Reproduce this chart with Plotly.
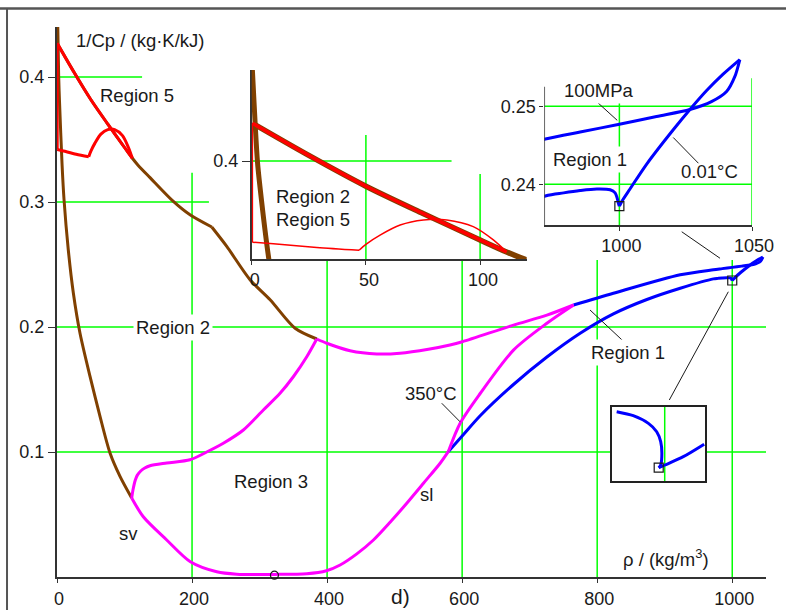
import plotly.graph_objects as go

# ---------------- data: 1/cp [kg K/kJ] versus density [kg/m3] ----------------
# saturated vapour line up to 350 degC (Region 2 boundary)
sv_rho = [0.3, 2.5, 3.6, 7.5, 10.4, 16.7, 24.2, 34.0, 48.9, 63.7, 78.5, 93.3, 110.6]
sv_icp = [0.465, 0.400, 0.382, 0.330, 0.302, 0.2618, 0.2272, 0.1952, 0.1605, 0.1285, 0.0992, 0.0805, 0.0632]

# 800 degC isotherm from p -> 0 up to 100 MPa (first six points: up to 50 MPa, shared with Region 5)
t800_rho = [0.3, 25, 50, 75, 100, 111.6, 120, 137.8, 172.3, 197, 229.2]
t800_icp = [0.427, 0.404, 0.382, 0.3625, 0.3436, 0.3350, 0.3295, 0.3195, 0.3005, 0.2898, 0.2800]
N50 = 6

# 100 MPa isobar in Region 2 (800 degC down to the B23 line)
p100_r2_rho = [229.2, 251.4, 285.9, 315.6, 352.6, 384.7]
p100_r2_icp = [0.2800, 0.2645, 0.2378, 0.2218, 0.1990, 0.1904]

# Region 5: ideal-gas limit, 2000 degC isotherm, 50 MPa isobar
p0_rho, p0_icp = [0.3, 0.3], [0.427, 0.342]
t2000_rho = [0.3, 9.5, 28.5, 47.0]
t2000_icp = [0.342, 0.3408, 0.3382, 0.3362]
p50_rho = [47.0, 50.0, 56.2, 65.0, 75.2, 85.4, 97.0, 105.8, 111.6]
p50_icp = [0.3362, 0.3405, 0.3471, 0.3543, 0.3579, 0.3579, 0.3531, 0.3436, 0.3350]

# Region 3: saturation dome from sv(350 degC) through the critical point to sl(350 degC)
dome_rho = [110.6, 127.8, 162.5, 197.5, 236.6, 266, 322, 370, 399, 419.3, 444, 468.6, 493.3, 518, 542.7, 567.4, 579.7]
dome_icp = [0.0632, 0.0482, 0.0296, 0.0122, 0.0042, 0.0023, 0.0021, 0.0026, 0.0050, 0.0096, 0.0185, 0.0296, 0.0438,
            0.0590, 0.0750, 0.0910, 0.1005]
# B23 boundary line
b23_rho = [110.6, 112.5, 116, 119, 124, 130, 137.7, 162.5, 197, 221.7, 246.3, 276, 305.6, 330.3, 350, 369.9, 384.7]
b23_icp = [0.0632, 0.0696, 0.0776, 0.0815, 0.0848, 0.0872, 0.0890, 0.0912, 0.0938, 0.1000, 0.1070, 0.1176, 0.1336,
           0.1470, 0.1602, 0.1762, 0.1904]
# 100 MPa isobar in Region 3
p100_r3_rho = [384.7, 399.5, 434, 473.6, 508, 550, 582, 600.3, 676, 725.5, 765]
p100_r3_icp = [0.1904, 0.1870, 0.1810, 0.1784, 0.1790, 0.1822, 0.1856, 0.1882, 0.2015, 0.2095, 0.2176]
# 350 degC isotherm (Region 1 / Region 3 border)
t350_rho = [579.7, 597, 626.7, 676, 725.5, 765]
t350_icp = [0.1005, 0.1230, 0.1468, 0.1815, 0.2030, 0.2176]

# Region 1: saturated liquid down to the triple point
sl_rho = [579.7, 602, 626.7, 676, 725.5, 774.8, 824, 873.6, 923, 972.1, 979, 985.2, 991.5, 996.5,
          998.4, 999.2, 999.6, 1000]
sl_icp = [0.1005, 0.1140, 0.1290, 0.1540, 0.1760, 0.1950, 0.2105, 0.2220, 0.2310, 0.2385, 0.2389, 0.2392, 0.2394,
          0.2393, 0.2389, 0.2382, 0.2376, 0.2372]
# 0.01 degC isotherm up to 100 MPa
t001_rho = [1000, 1000.9, 1004, 1010.3, 1020.3, 1026.6, 1032.8, 1039, 1045.4]
t001_icp = [0.2372, 0.2378, 0.2394, 0.2426, 0.2470, 0.2496, 0.2520, 0.2541, 0.2560]
# 100 MPa isobar in Region 1
p100_r1_rho = [1045.4, 1043.5, 1040.4, 1034.7, 1026.6, 1014, 1000, 985.2, 972.1, 923, 824, 765]
p100_r1_icp = [0.2560, 0.2538, 0.2519, 0.2506, 0.2496, 0.2487, 0.2477, 0.2467, 0.2458, 0.2418, 0.2270, 0.2176]

# magnified saturated-liquid line and 0.01 degC isotherm around the triple point
box_sl_rho = [998.32, 998.90, 999.43, 999.72, 999.86, 999.90, 999.86, 999.79]
box_sl_icp = [0.23966, 0.23947, 0.23910, 0.23870, 0.23822, 0.23766, 0.23710, 0.23697]
box_t001_rho = [999.79, 1000.01, 1000.65, 1001.38]
box_t001_icp = [0.23697, 0.23710, 0.23750, 0.23810]

tp_rho, tp_icp = [1000.0], [0.2372]          # triple point (liquid)
tp_box_rho, tp_box_icp = [999.79], [0.23697]
crit_rho, crit_icp = [322.0], [0.0015]       # critical point

x_ticks = [0, 200, 400, 600, 800, 1000]
y_ticks = [0.1, 0.2, 0.3, 0.4]
ins1_xticks, ins1_yticks = [0, 50, 100], [0.4]
ins3_xticks, ins3_yticks = [1000, 1050], [0.24, 0.25]

BROWN, RED, BLUE, MAG, GREEN = "#804000", "#FF0000", "#0000FF", "#FF00FF", "#00FF00"
FONT = "Arial, Liberation Sans, sans-serif"
INK = "#1a1a1a"

fig = go.Figure()


def line(x, y, color, width, ax="", smooth=True):
    fig.add_trace(go.Scatter(x=x, y=y, mode="lines",
                             line=dict(color=color, width=width, shape="spline" if smooth else "linear",
                                       smoothing=0.8),
                             xaxis="x" + ax, yaxis="y" + ax, hoverinfo="skip", showlegend=False))


def mark(x, y, symbol, size, ax=""):
    fig.add_trace(go.Scatter(x=x, y=y, mode="markers", cliponaxis=False,
                             marker=dict(symbol=symbol, size=size, color=INK, line=dict(color=INK, width=1.2)),
                             xaxis="x" + ax, yaxis="y" + ax, hoverinfo="skip", showlegend=False))


def region1(ax, w):
    line(sl_rho, sl_icp, BLUE, w, ax)
    line(t001_rho, t001_icp, BLUE, w, ax)
    line(p100_r1_rho, p100_r1_icp, BLUE, w, ax)


def region2(ax, w):
    line(sv_rho, sv_icp, BROWN, w, ax)
    line(t800_rho, t800_icp, BROWN, w, ax)
    line(p100_r2_rho, p100_r2_icp, BROWN, w, ax)


# ---- main diagram ----
region2("", 3)
line(p0_rho, p0_icp, RED, 3, smooth=False)
line(t2000_rho, t2000_icp, RED, 3)
line(p50_rho, p50_icp, RED, 3)
line(t800_rho[:N50], t800_icp[:N50], RED, 3)
region1("", 3)
line(dome_rho, dome_icp, MAG, 3)
line(b23_rho, b23_icp, MAG, 3)
line(p100_r3_rho, p100_r3_icp, MAG, 3)
line(t350_rho, t350_icp, MAG, 3)
mark(tp_rho, tp_icp, "square-open", 9)
mark(crit_rho, crit_icp, "circle-open", 8)

# ---- inset: Regions 2 and 5 at low density ----
line(sv_rho, sv_icp, BROWN, 5, "2")
line(t800_rho, t800_icp, BROWN, 5.5, "2")
line(p0_rho, p0_icp, RED, 1.5, "2", smooth=False)
line(t2000_rho, t2000_icp, RED, 1.5, "2")
line(p50_rho, p50_icp, RED, 1.5, "2")
line(t800_rho[:N50], t800_icp[:N50], RED, 3.5, "2")

# ---- inset: Region 1 near the triple point ----
region1("3", 3)
mark(tp_rho, tp_icp, "square-open", 9, "3")

# ---- small magnifier box ----
line(box_sl_rho, box_sl_icp, BLUE, 3, "4")
line(box_t001_rho, box_t001_icp, BLUE, 3, "4")
mark(tp_box_rho, tp_box_icp, "square-open", 9, "4")

# ---------------- decoration: partial grid lines and leader lines ----------------
shapes = []


def seg(x0, y0, x1, y1, ax="", color=GREEN, width=1.5, layer="below"):
    shapes.append(dict(type="line", x0=x0, y0=y0, x1=x1, y1=y1, xref="x" + ax, yref="y" + ax,
                       line=dict(color=color, width=width), layer=layer))


# main grid
seg(0, 0.4, 126, 0.4)
seg(0, 0.3, 225, 0.3)
seg(0, 0.2, 1050, 0.2)
seg(0, 0.1, 826.5, 0.1)
seg(958.5, 0.1, 1050, 0.1)
seg(200, 0, 200, 0.3234)
seg(400, 0, 400, 0.266)
seg(600, 0, 600, 0.2594)
seg(800, 0, 800, 0.2536)
seg(1000, 0, 1000, 0.2536)
# inset 1 grid
seg(0, 0.4, 87.5, 0.4, "2")
seg(50, 0.33, 50, 0.4186, "2")
seg(100, 0.33, 100, 0.3907, "2")
# inset 3 grid and its y axis
seg(971.7, 0.25, 1050, 0.25, "3")
seg(971.7, 0.24, 1050, 0.24, "3")
seg(1000, 0.23478, 1000, 0.2517, "3")
seg(1050, 0.23478, 1050, 0.2536, "3")
seg(971.7, 0.23478, 971.7, 0.2525, "3", color="#333", width=1.5, layer="above")
# magnifier grid
seg(1000, 0.23633, 1000, 0.23990, "4")

# leader lines
seg(569.8, 0.139, 596.9, 0.1242, color=INK, width=1, layer="above")
seg(789.4, 0.2136, 841.2, 0.1874, color=INK, width=1, layer="above")
seg(994.2, 0.2282, 906.8, 0.1416, color=INK, width=1, layer="above")
seg(925.2, 0.2762, 981.9, 0.2550, color=INK, width=1, layer="above")
seg(990.8, 0.2508, 999.2, 0.2482, "3", color=INK, width=1, layer="above")
seg(1020.3, 0.2460, 1029.8, 0.2427, "3", color=INK, width=1, layer="above")

# page frame
shapes.append(dict(type="line", xref="paper", yref="paper", x0=-0.0804, x1=1.0282, y0=1.0336, y1=1.0336,
                   line=dict(color="#555", width=2.5)))
shapes.append(dict(type="line", xref="paper", yref="paper", x0=-0.0705, x1=-0.0705, y0=-0.06, y1=1.0336,
                   line=dict(color="#555", width=2)))

# ---------------- text ----------------
annotations = []


def text(s, x, y, ax="", size=18.5, bg=None, xref=None, yref=None, yanchor="middle"):
    a = dict(text=s, x=x, y=y, xref=xref or "x" + ax, yref=yref or "y" + ax, showarrow=False,
             font=dict(family=FONT, size=size, color=INK), xanchor="center", yanchor=yanchor)
    if bg:
        a.update(bgcolor=bg, borderpad=2)
    annotations.append(a)


text("1/Cp / (kg·K/kJ)", 123.0, 0.4296)
text("Region 5", 119.2, 0.3856)
text("Region 2", 172.3, 0.2, bg="white")
text("Region 3", 316.5, 0.0768)
text("sv", 106.6, 0.0352)
text("sl", 547.2, 0.066)
text("350°C", 554.6, 0.1472)
text("Region 1", 845.7, 0.1796, bg="white")
text("ρ / (kg/m<sup>3</sup>)", 902, 0.0150)
text("Region 2", 26.9, 0.3750, "2")
text("Region 5", 26.9, 0.3582, "2")
text("100MPa", 992.4, 0.25209, "3", bg="white")
text("Region 1", 989.0, 0.24318, "3", bg="white")
text("0.01°C", 1033.8, 0.24164, "3")
text("d)", 0.4838, -0.0595, size=21, xref="paper", yref="paper", yanchor="bottom")

tickfont = dict(family=FONT, size=18, color=INK)
axcommon = dict(showgrid=False, zeroline=False, showline=True, linecolor="#333", ticks="outside",
                tickcolor="#333", tickfont=tickfont, layer="below traces", fixedrange=True, automargin=False)
boxax = dict(showgrid=False, zeroline=False, showline=True, mirror=True, linecolor="#222", linewidth=1.5,
             showticklabels=False, ticks="", fixedrange=True, automargin=False)

fig.update_layout(
    width=786, height=610, autosize=False,
    margin=dict(l=57, r=20, t=27, b=33, autoexpand=False),
    paper_bgcolor="white", plot_bgcolor="white",
    font=dict(family=FONT, color=INK),
    showlegend=False,
    xaxis=dict(axcommon, domain=[0, 1], range=[0, 1050], tickvals=x_ticks, ticklen=4, linewidth=2,
               ticklabelshift=2, anchor="y"),
    yaxis=dict(axcommon, domain=[0, 1], range=[0, 0.44], tickvals=y_ticks, ticktext=[f"{v:.1f}" for v in y_ticks],
               ticklen=7, linewidth=2, anchor="x"),
    xaxis2=dict(axcommon, domain=[0.2746, 0.6625], range=[0, 120.4], tickvals=ins1_xticks, ticklen=4,
                linewidth=1.5, ticklabelshift=3, anchor="y2"),
    yaxis2=dict(axcommon, domain=[0.5782, 0.9218], range=[0.33, 0.465], tickvals=ins1_yticks, ticktext=["0.4"],
                ticklen=8, linewidth=1.5, anchor="x2"),
    xaxis3=dict(axcommon, domain=[0.6873, 0.9803], range=[971.7, 1050], tickvals=ins3_xticks, ticklen=4,
                linewidth=1.5, ticklabelshift=2, anchor="y3"),
    yaxis3=dict(axcommon, domain=[0.64, 0.9509], range=[0.23478, 0.25671], tickvals=ins3_yticks,
                ticktext=["0.24", "0.25"], ticklen=4, showline=False, anchor="x3"),
    xaxis4=dict(boxax, domain=[0.7824, 0.9140], range=[998.147, 1001.41], anchor="y4"),
    yaxis4=dict(boxax, domain=[0.1745, 0.3096], range=[0.23633, 0.23990], anchor="x4"),
    shapes=shapes,
    annotations=annotations,
)

fig.write_html("out.html")
